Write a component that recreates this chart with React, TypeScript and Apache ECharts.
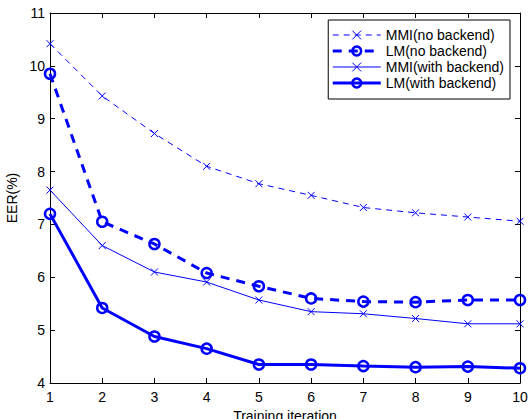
import React, { useEffect, useRef } from "react";
import * as echarts from "echarts";

const iterations = [1, 2, 3, 4, 5, 6, 7, 8, 9, 10];
const mmiNoBackend = [10.42, 9.43, 8.72, 8.1, 7.77, 7.55, 7.32, 7.22, 7.14, 7.06];
const lmNoBackend = [9.85, 7.05, 6.63, 6.08, 5.83, 5.6, 5.54, 5.53, 5.57, 5.57];
const mmiWithBackend = [7.65, 6.6, 6.1, 5.91, 5.57, 5.35, 5.31, 5.22, 5.12, 5.12];
const lmWithBackend = [7.2, 5.42, 4.88, 4.65, 4.35, 4.35, 4.32, 4.3, 4.31, 4.28];
const seriesNames = ["MMI(no backend)", "LM(no backend)", "MMI(with backend)", "LM(with backend)"];

const BLUE = "#0000ff";
const FONT = "Liberation Sans, Arial, Helvetica, sans-serif";
const XMARK = "path://M0,0L10,10M10,0L0,10";

function pairs(vals: number[]) {
  return iterations.map((x, i) => [x, vals[i]]);
}

const styles = [
  { symbol: XMARK, size: 7, bw: 1, lw: 1, type: [6, 5] as any },
  { symbol: "circle", size: 10, bw: 2.5, lw: 3, type: [9, 7] as any },
  { symbol: XMARK, size: 7, bw: 1, lw: 1, type: "solid" as any },
  { symbol: "circle", size: 10, bw: 2.5, lw: 3, type: "solid" as any },
];

export default function App() {
  const ref = useRef<HTMLDivElement>(null);
  useEffect(() => {
    if (!ref.current) return;
    const chart = echarts.init(ref.current, null, { renderer: "svg" });
    const axisCommon = {
      axisLine: { show: true, onZero: false, lineStyle: { color: "#000", width: 1 } },
      axisTick: { show: true, inside: true, length: 5, lineStyle: { color: "#000" } },
      splitLine: { show: false },
    };
    const series = [mmiNoBackend, lmNoBackend, mmiWithBackend, lmWithBackend].map((vals, i) => ({
      name: seriesNames[i],
      type: "line",
      data: pairs(vals),
      symbol: styles[i].symbol,
      symbolSize: styles[i].size,
      itemStyle: { color: "rgba(0,0,0,0)", borderColor: BLUE, borderWidth: styles[i].bw },
      lineStyle: { color: BLUE, width: styles[i].lw, type: styles[i].type },
      z: styles[i].lw > 1 ? 3 : 2,
    }));
    chart.setOption({
      animation: false,
      backgroundColor: "#fff",
      textStyle: { fontFamily: FONT },
      grid: {
        left: 50,
        right: 8,
        top: 13,
        bottom: 36,
        containLabel: false,
        outerBoundsMode: "none",
      },
      legend: {
        orient: "vertical",
        right: 18,
        top: 20,
        data: seriesNames.map((n, i) => ({
          name: n,
          itemStyle: { color: "rgba(0,0,0,0)", borderColor: BLUE, borderWidth: styles[i].bw },
          lineStyle: { color: BLUE, width: styles[i].lw, type: styles[i].type },
        })),
        itemWidth: 48,
        itemHeight: 11,
        itemGap: 0,
        padding: [7, 6, 8, 3],
        borderColor: "#000",
        borderWidth: 1,
        backgroundColor: "#fff",
        textStyle: { fontSize: 14, lineHeight: 16, color: "#000", fontFamily: FONT },
      },
      xAxis: [
        {
          type: "value",
          min: 1,
          max: 10,
          interval: 1,
          name: "Training iteration",
          nameLocation: "middle",
          nameGap: 21,
          nameTextStyle: { fontSize: 14, color: "#000", fontFamily: FONT },
          axisLabel: { fontSize: 14, color: "#000", margin: 7, fontFamily: FONT },
          ...axisCommon,
        },
        {
          type: "value",
          position: "top",
          min: 1,
          max: 10,
          interval: 1,
          axisLabel: { show: false },
          ...axisCommon,
        },
      ],
      yAxis: [
        {
          type: "value",
          min: 4,
          max: 11,
          interval: 1,
          name: "EER(%)",
          nameLocation: "middle",
          nameGap: 28,
          nameTextStyle: { fontSize: 14, color: "#000", fontFamily: FONT },
          axisLabel: { fontSize: 14, color: "#000", margin: 5, fontFamily: FONT },
          ...axisCommon,
        },
        {
          type: "value",
          position: "right",
          min: 4,
          max: 11,
          interval: 1,
          axisLabel: { show: false },
          ...axisCommon,
        },
      ],
      series,
    });
    return () => chart.dispose();
  }, []);
  return (
    <div
      ref={ref}
      style={{ position: "absolute", left: 0, top: 0, width: 528, height: 419, background: "#fff" }}
    />
  );
}
